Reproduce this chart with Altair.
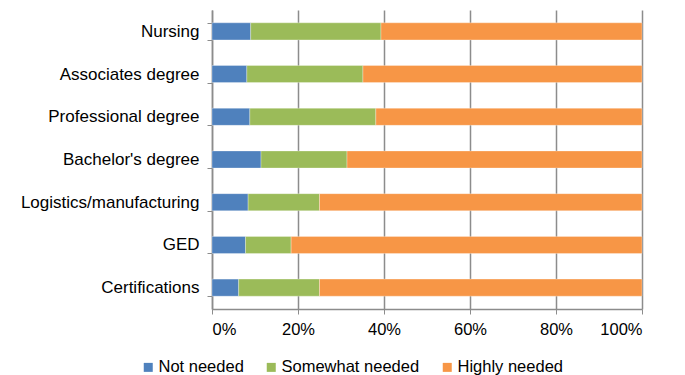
import altair as alt
import pandas as pd

categories = ["Nursing", "Associates degree", "Professional degree", "Bachelor's degree",
              "Logistics/manufacturing", "GED", "Certifications"]
not_needed = [9.0, 8.1, 8.8, 11.4, 8.4, 7.8, 6.2]
somewhat_needed = [30.3, 27.0, 29.3, 20.0, 16.6, 10.6, 18.8]
highly_needed = [60.7, 64.9, 61.9, 68.6, 75.0, 81.6, 75.0]
series = ["Not needed", "Somewhat needed", "Highly needed"]
colors = ["#4F81BD", "#9BBB59", "#F79646"]

rows = []
for i, c in enumerate(categories):
    for j, (s, vals) in enumerate(zip(series, [not_needed, somewhat_needed, highly_needed])):
        rows.append({"category": c, "series": s, "value": vals[i], "order": j})
df = pd.DataFrame(rows)

FONT = "Liberation Sans"
FS = 16.5

chart = alt.Chart(df).mark_bar(stroke="white", strokeWidth=0.5, strokeOpacity=0.6).encode(
    y=alt.Y("category:N", sort=categories, title=None,
            scale=alt.Scale(paddingInner=0.6, paddingOuter=0.3),
            axis=alt.Axis(tickBand="extent", domainColor="#8c8c8c", tickColor="#8c8c8c",
                          tickSize=5, labelPadding=8, labelFontSize=17, labelColor="#000000",
                          labelFont=FONT, grid=False, domainWidth=1.5)),
    x=alt.X("value:Q", stack="normalize", title=None,
            scale=alt.Scale(domain=[0, 1]),
            axis=alt.Axis(format="%", values=[0, 0.2, 0.4, 0.6, 0.8, 1.0],
                          grid=True, gridColor="#8c8c8c", gridWidth=1.5,
                          domainColor="#8c8c8c", tickColor="#8c8c8c", domainWidth=1.5,
                          tickSize=5, labelPadding=7, labelFontSize=FS, labelColor="#000000",
                          labelFont=FONT)),
    color=alt.Color("series:N", sort=series,
                    scale=alt.Scale(domain=series, range=colors),
                    legend=alt.Legend(title=None, orient="none", direction="horizontal",
                                      legendX=-72, legendY=349, symbolType="square",
                                      symbolSize=81, symbolStrokeWidth=0, labelFontSize=FS,
                                      labelFont=FONT, labelColor="#000000",
                                      labelOffset=2, columnPadding=19)),
    order=alt.Order("order:Q"),
).properties(
    width=430, height=299,
    padding={"left": 212, "top": 10, "right": 43, "bottom": 66},
    autosize=alt.AutoSizeParams(type="none"),
).configure_view(stroke=None)

chart.save("out.html", embed_options={"renderer": "svg", "actions": False})
